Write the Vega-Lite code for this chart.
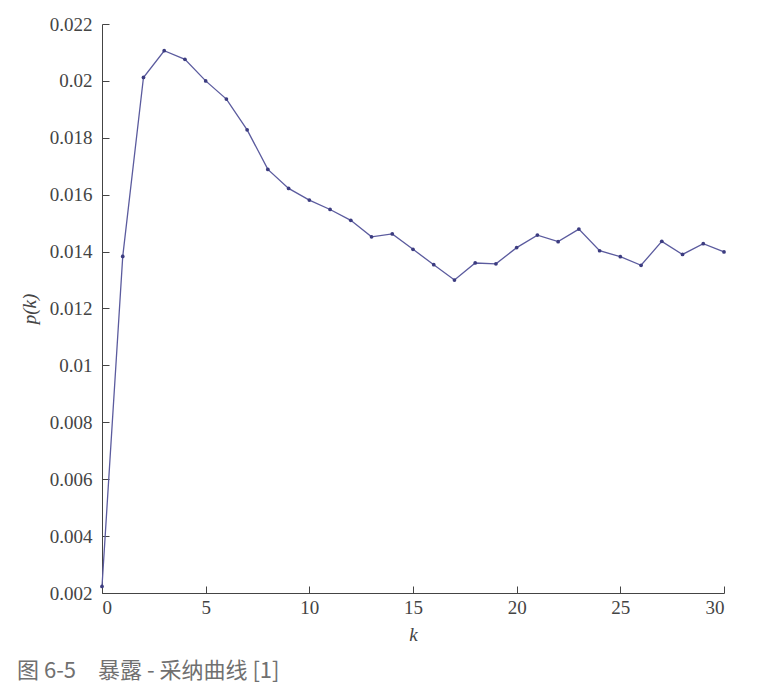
{
  "$schema": "https://vega.github.io/schema/vega-lite/v6.json",
  "width": 622,
  "height": 569,
  "autosize": {"type": "none"},
  "padding": {"left": 102, "top": 24, "right": 37, "bottom": 104},
  "background": "white",
  "config": {"view": {"stroke": null}},
  "title": {
    "text": "图 6-5\u2003暴露 - 采纳曲线 [1]",
    "orient": "bottom",
    "anchor": "start",
    "frame": "group",
    "dx": -85,
    "offset": 17,
    "font": "Noto Sans CJK SC",
    "fontSize": 22,
    "fontWeight": "normal",
    "color": "#707070"
  },
  "data": {
    "values": [
      {"k": 0, "p": 0.00223},
      {"k": 1, "p": 0.01383},
      {"k": 2, "p": 0.02012},
      {"k": 3, "p": 0.02106},
      {"k": 4, "p": 0.02076},
      {"k": 5, "p": 0.0200},
      {"k": 6, "p": 0.01936},
      {"k": 7, "p": 0.01828},
      {"k": 8, "p": 0.01689},
      {"k": 9, "p": 0.01622},
      {"k": 10, "p": 0.01581},
      {"k": 11, "p": 0.01548},
      {"k": 12, "p": 0.0151},
      {"k": 13, "p": 0.01452},
      {"k": 14, "p": 0.01462},
      {"k": 15, "p": 0.01408},
      {"k": 16, "p": 0.01354},
      {"k": 17, "p": 0.0130},
      {"k": 18, "p": 0.0136},
      {"k": 19, "p": 0.01357},
      {"k": 20, "p": 0.01414},
      {"k": 21, "p": 0.01458},
      {"k": 22, "p": 0.01435},
      {"k": 23, "p": 0.01479},
      {"k": 24, "p": 0.01403},
      {"k": 25, "p": 0.01382},
      {"k": 26, "p": 0.01352},
      {"k": 27, "p": 0.01436},
      {"k": 28, "p": 0.0139},
      {"k": 29, "p": 0.01428},
      {"k": 30, "p": 0.01399}
    ]
  },
  "encoding": {
    "x": {
      "field": "k",
      "type": "quantitative",
      "scale": {"domain": [0, 30], "nice": false, "zero": false},
      "axis": {
        "title": "k",
        "values": [0, 5, 10, 15, 20, 25, 30],
        "grid": false,
        "tickSize": -7,
        "labelPadding": 12,
        "domainColor": "#444",
        "tickColor": "#444",
        "labelColor": "#444",
        "labelFont": "Liberation Serif",
        "labelFontSize": 19,
        "titleFont": "Liberation Serif",
        "titleFontStyle": "italic",
        "titleFontWeight": "normal",
        "titleFontSize": 19,
        "titleColor": "#444",
        "titlePadding": 8
      }
    },
    "y": {
      "field": "p",
      "type": "quantitative",
      "scale": {"domain": [0.002, 0.022], "nice": false, "zero": false},
      "axis": {
        "title": "p(k)",
        "values": [0.002, 0.004, 0.006, 0.008, 0.01, 0.012, 0.014, 0.016, 0.018, 0.02, 0.022],
        "labelExpr": "datum.value == 0.01 ? '0.01' : datum.value == 0.02 ? '0.02' : format(datum.value, '.3f')",
        "grid": false,
        "tickSize": -7,
        "labelPadding": 17,
        "domainColor": "#444",
        "tickColor": "#444",
        "labelColor": "#444",
        "labelFont": "Liberation Serif",
        "labelFontSize": 19,
        "titleFont": "Liberation Serif",
        "titleFontStyle": "italic",
        "titleFontWeight": "normal",
        "titleFontSize": 19,
        "titleColor": "#444",
        "titlePadding": 10
      }
    }
  },
  "layer": [
    {"mark": {"type": "line", "color": "#5b5b9e", "strokeWidth": 1.3}},
    {"mark": {"type": "point", "filled": true, "color": "#3c3c80", "size": 14, "opacity": 1}}
  ]
}
